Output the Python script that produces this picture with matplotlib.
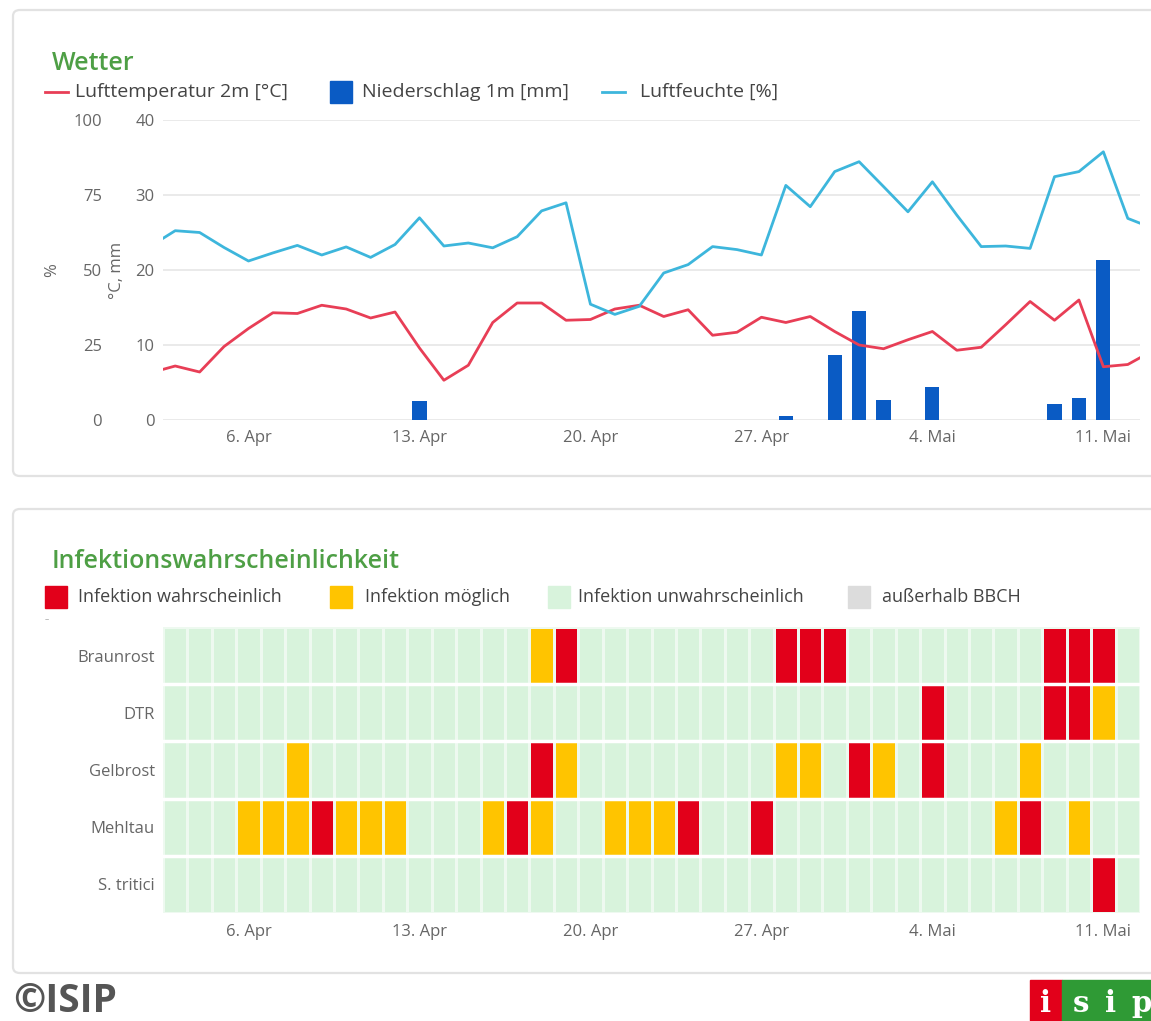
import numpy as np
import matplotlib
matplotlib.use("Agg")
import matplotlib.pyplot as plt
from matplotlib.colors import ListedColormap
from matplotlib.patches import FancyBboxPatch, Rectangle
from matplotlib.lines import Line2D

plt.rcParams['font.family'] = ['Open Sans', 'DejaVu Sans']

# ---- data (day index 0 = 3. Apr) ----
line_days = np.arange(-1, 41)          # 2. Apr .. 13. Mai (edges are clipped)
temperature = [6.3, 7.2, 6.4, 9.8, 12.2, 14.3, 14.2, 15.3, 14.8, 13.6, 14.4,
               9.6, 5.3, 7.3, 13.0, 15.6, 15.6, 13.3, 13.4, 14.8, 15.3, 13.8,
               14.7, 11.3, 11.7, 13.7, 13.0, 13.8, 11.8, 10.0, 9.5, 10.7, 11.8,
               9.3, 9.7, 12.7, 15.8, 13.3, 16.0, 7.1, 7.4, 9.2]
humidity = [58.0, 63.1, 62.5, 57.5, 53.0, 55.7, 58.2, 55.0, 57.7, 54.2, 58.5,
            67.4, 58.0, 59.0, 57.4, 61.1, 69.7, 72.4, 38.6, 35.2, 37.9, 49.0,
            51.8, 57.8, 56.8, 55.0, 78.2, 71.1, 82.8, 86.1, 77.8, 69.4, 79.4,
            68.3, 57.8, 58.0, 57.2, 81.1, 82.8, 89.4, 67.2, 64.0]

rain_days = [10, 25, 27, 28, 29, 31, 36, 37, 38]
rain_mm = [2.5, 0.6, 8.7, 14.5, 2.7, 4.4, 2.1, 3.0, 21.3]

n_days = 40
tick_days = [3, 10, 17, 24, 31, 38]
tick_labels = ["6. Apr", "13. Apr", "20. Apr", "27. Apr", "4. Mai", "11. Mai"]

diseases = ["Braunrost", "DTR", "Gelbrost", "Mehltau", "S. tritici"]
possible_days = [[15], [38], [5, 16, 25, 26, 29, 35],
                 [3, 4, 5, 7, 8, 9, 13, 15, 18, 19, 20, 34, 37], []]
likely_days = [[16, 25, 26, 27, 36, 37, 38], [31, 36, 37], [15, 28, 31],
               [6, 14, 21, 24, 35], [38]]

risk_labels = ["Infektion wahrscheinlich", "Infektion möglich",
               "Infektion unwahrscheinlich", "außerhalb BBCH"]

# ---- styling ----
W, H = 1151, 1021
RED_LINE = "#e83e56"
BAR_BLUE = "#0a5bc4"
CYAN = "#3db6dc"
TITLE_GREEN = "#4e9f45"
TXT = "#444444"
TICK = "#666666"
C_LIKELY = "#e2001a"
C_POSSIBLE = "#ffc400"
C_UNLIKELY = "#d8f3dc"
C_OUT = "#dcdcdc"
TICK_SIZE = 12


def fx(x):
    return x / W


def fy(y):
    return 1 - y / H


fig = plt.figure(figsize=(W / 100, H / 100), dpi=100, facecolor="white")

# cards
for top, bottom in [(10, 476), (509, 973)]:
    card = FancyBboxPatch((fx(13), fy(bottom)), fx(1160) - fx(13), fy(top) - fy(bottom),
                          boxstyle="round,pad=0,rounding_size=0.006",
                          transform=fig.transFigure, facecolor="white",
                          edgecolor="#e2e2e2", linewidth=1.6, zorder=-5)
    fig.patches.append(card)

# ---- weather chart ----
ax = fig.add_axes([fx(163), fy(420), fx(1140) - fx(163), fy(120) - fy(420)])
ax.set_facecolor("none")
ax.bar(rain_days, rain_mm, width=0.58, color=BAR_BLUE, zorder=2)
ax.plot(line_days, temperature, color=RED_LINE, linewidth=2.0, zorder=3)
ax.set_ylim(0, 40)
ax.set_yticks([0, 10, 20, 30, 40])
ax.set_xlim(-0.5, n_days - 0.5)
ax.set_xticks(tick_days)
ax.set_xticklabels(tick_labels)
ax.grid(axis="y", color="#e6e6e6", linewidth=1.2, zorder=0)
ax.set_axisbelow(True)
ax.tick_params(axis="both", length=0, labelsize=TICK_SIZE, labelcolor=TICK)
ax.tick_params(axis="y", pad=6)
ax.tick_params(axis="x", pad=7)
for s in ax.spines.values():
    s.set_visible(False)

axh = ax.twinx()
axh.plot(line_days, humidity, color=CYAN, linewidth=2.0, zorder=3)
axh.set_ylim(0, 100)
axh.set_yticks([0, 25, 50, 75, 100])
axh.yaxis.set_ticks_position("left")
axh.tick_params(axis="y", length=0, labelsize=TICK_SIZE, labelcolor=TICK, pad=44)
axh.set_xlim(-0.5, n_days - 0.5)
for s in axh.spines.values():
    s.set_visible(False)

fig.text(fx(52), fy(270), "%", rotation=90, fontsize=TICK_SIZE, color=TICK,
         ha="center", va="center")
fig.text(fx(117), fy(270), "°C, mm", rotation=90, fontsize=TICK_SIZE, color=TICK,
         ha="center", va="center")

fig.text(fx(52), fy(64), "Wetter", fontsize=18, fontweight="semibold",
         color=TITLE_GREEN, ha="left", va="center")

# weather legend
fig.lines.append(Line2D([fx(45), fx(68)], [fy(92), fy(92)], color=RED_LINE,
                        linewidth=2, transform=fig.transFigure))
fig.text(fx(75), fy(92), "Lufttemperatur 2m [°C]", fontsize=14, color=TXT, va="center")
fig.patches.append(Rectangle((fx(330), fy(103)), fx(22), fy(0) - fy(22),
                             transform=fig.transFigure, color=BAR_BLUE))
fig.text(fx(362), fy(92), "Niederschlag 1m [mm]", fontsize=14, color=TXT, va="center")
fig.lines.append(Line2D([fx(602), fx(625)], [fy(92), fy(92)], color=CYAN,
                        linewidth=2, transform=fig.transFigure))
fig.text(fx(640), fy(92), "Luftfeuchte [%]", fontsize=14, color=TXT, va="center")

# ---- infection chart ----
risk = np.zeros((len(diseases), n_days))
for r in range(len(diseases)):
    risk[r, possible_days[r]] = 1
    risk[r, likely_days[r]] = 2

axm = fig.add_axes([fx(163), fy(913), fx(1140) - fx(163), fy(627) - fy(913)])
cmap = ListedColormap([C_UNLIKELY, C_POSSIBLE, C_LIKELY])
axm.pcolormesh(np.arange(n_days + 1) - 0.5, np.arange(len(diseases) + 1) - 0.5,
               risk, cmap=cmap, vmin=0, vmax=2, edgecolors="#eef9f0", linewidth=1.0)
for b in np.arange(1, len(diseases)) - 0.5:
    axm.axhline(b, color="white", linewidth=2.5)
axm.set_xlim(-0.5, n_days - 0.5)
axm.set_ylim(len(diseases) - 0.5, -0.5)
axm.set_yticks(range(len(diseases)))
axm.set_yticklabels(diseases)
axm.set_xticks(tick_days)
axm.set_xticklabels(tick_labels)
axm.tick_params(axis="both", length=0, labelsize=TICK_SIZE, labelcolor=TICK)
axm.tick_params(axis="y", pad=6)
axm.tick_params(axis="x", pad=8)
for s in axm.spines.values():
    s.set_visible(False)

fig.text(fx(52), fy(562), "Infektionswahrscheinlichkeit", fontsize=18,
         fontweight="semibold", color=TITLE_GREEN, ha="left", va="center")

legend_x = [(45, 78), (330, 365), (548, 578), (848, 882)]
legend_c = [C_LIKELY, C_POSSIBLE, C_UNLIKELY, C_OUT]
for (sx, tx), c, lab in zip(legend_x, legend_c, risk_labels):
    fig.patches.append(Rectangle((fx(sx), fy(608)), fx(22), fy(0) - fy(22),
                                 transform=fig.transFigure, color=c))
    fig.text(fx(tx), fy(597), lab, fontsize=13, color=TXT, va="center")
fig.text(fx(45), fy(620), "–", fontsize=6, color="#888888", va="center")

# ---- footer ----
fig.text(fx(13), fy(1001), "©ISIP", fontsize=28, fontweight="bold",
         color="#555555", va="center")
fig.patches.append(Rectangle((fx(1030), fy(1021)), fx(32), fy(0) - fy(41),
                             transform=fig.transFigure, color="#e2001a"))
fig.patches.append(Rectangle((fx(1062), fy(1021)), fx(95), fy(0) - fy(41),
                             transform=fig.transFigure, color="#2f9a35"))
for lx, ch in [(1046, "i"), (1081, "s"), (1111, "i"), (1141, "p")]:
    fig.text(fx(lx), fy(1003), ch, fontsize=21, fontweight="bold", color="white",
             family="DejaVu Serif", ha="center", va="center")

fig.savefig("out.png", dpi=100, facecolor="white")
